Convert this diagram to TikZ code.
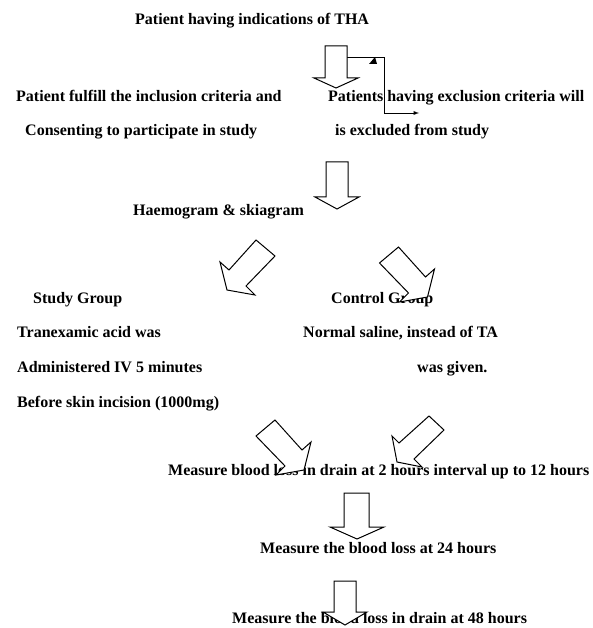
\documentclass[tikz,border=0pt]{standalone}
\usepackage{fontspec}
\setmainfont{Liberation Serif}

\begin{document}
\begin{tikzpicture}[
  x=1pt, y=-1pt, >=latex, line cap=butt,
  font=\fontsize{16}{19}\selectfont\bfseries,
  txt/.style={anchor=base west, inner sep=0pt},
  blockarrow/.style={draw=black, fill=white, line width=1pt, line join=miter},
  elbow/.style={draw=black, line width=0.9pt}
]
\useasboundingbox (0,0) rectangle (592,628);

\node[txt] (tha) at (135,25) {Patient having indications of THA};
  \node[txt] (incl1) at (16,102) {Patient fulfill the inclusion criteria and};
  \node[txt] (incl2) at (25,136) {Consenting to participate in study};
  \node[txt] (excl1) at (328,102) {Patients having exclusion criteria will};
  \node[txt] (excl2) at (335,136) {is excluded from study};
\node[txt] (haemo) at (133,215) {Haemogram \& skiagram};
  \node[txt] (study) at (33,303) {Study Group};
    \node[txt] (study1) at (17,337) {Tranexamic acid was};
    \node[txt] (study2) at (17,372) {Administered IV 5 minutes};
    \node[txt] (study3) at (17,407) {Before skin incision (1000mg)};
  \node[txt] (control) at (331,303) {Control Group};
    \node[txt] (control1) at (303,337) {Normal saline, instead of TA};
    \node[txt] (control2) at (417,372) {was given.};
\node[txt] (m12) at (168,475) {Measure blood loss in drain at 2 hours interval up to 12 hours};
\node[txt] (m24) at (260,553) {Measure the blood loss at 24 hours};
\node[txt] (m48) at (232,623) {Measure the blood loss in drain at 48 hours};

% exclusion branch
\coordinate (exstart) at (347,57);
\coordinate (exbend) at (384,113);
\coordinate (exend) at (419,113);
\draw[elbow,->] (exstart) -| (exbend) -- (exend);
\fill (369,64) -- (377,64) -- (375,57) -- cycle;

% block arrows
\draw[blockarrow] (325,46) -- (347,46) -- (347,78) -- (358,78) -- (336,88) -- (314,78) -- (325,78) -- cycle;
\draw[blockarrow] (326,162) -- (348,162) -- (348,197) -- (359,197) -- (337,209) -- (315,197) -- (326,197) -- cycle;

\draw[blockarrow] (256,240) -- (275,256) -- (246,286) -- (255,295) -- (227,290) -- (220,262) -- (229,270) -- cycle;
\draw[blockarrow] (398.5,247) -- (379.5,263) -- (408.5,293) -- (399.5,302) -- (427.5,297) -- (434.5,269) -- (425.5,277) -- cycle;

\draw[blockarrow] (275,420) -- (256,436) -- (285,466) -- (276,475) -- (304,470) -- (311,442) -- (302,450) -- cycle;
\draw[blockarrow] (429,416) -- (444,430) -- (414,459) -- (422,467) -- (397,462) -- (392,436) -- (399,443) -- cycle;

\draw[blockarrow] (344,493) -- (369,493) -- (369,527) -- (384,527) -- (357,539) -- (330,527) -- (344,527) -- cycle;
\draw[blockarrow] (334,581) -- (356,581) -- (356,612) -- (367,612) -- (345,625) -- (323,612) -- (334,612) -- cycle;
\end{tikzpicture}
\end{document}
